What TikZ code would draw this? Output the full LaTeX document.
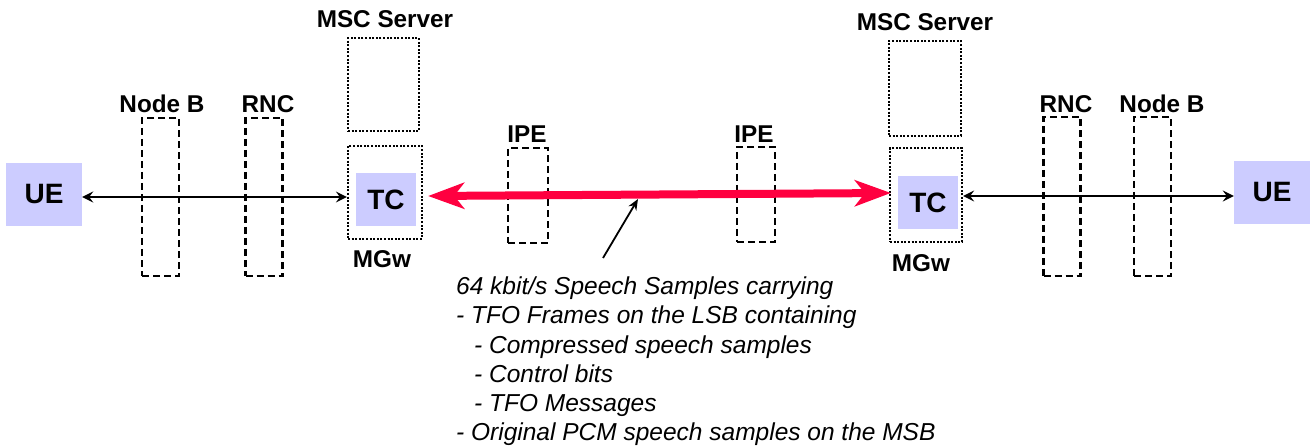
\documentclass[tikz,border=0pt]{standalone}
\usepackage{fontspec}
\setmainfont{Liberation Sans}
\usetikzlibrary{arrows.meta}
\definecolor{uefill}{RGB}{204,204,255}
\definecolor{redarrow}{RGB}{255,0,64}
\tikzset{
  lbl/.style={font=\fontsize{24.3}{27}\selectfont\bfseries, inner sep=0pt},
  endbox/.style={fill=uefill, inner sep=0pt, font=\fontsize{28}{30}\selectfont\bfseries},
  dashbox/.style={draw, line width=2.4pt, dash pattern=on 7pt off 4pt, inner sep=0pt, minimum width=37pt},
  dotbox/.style={draw, line width=2.2pt, dash pattern=on 2pt off 1.6pt, inner sep=0pt},
  blk/.style={line width=1.8pt, {Stealth[length=11pt,width=11pt,inset=4pt]}-{Stealth[length=11pt,width=11pt,inset=4pt]}},
  redarr/.style={draw=redarrow, line width=8pt, {Stealth[length=36pt,width=26pt,inset=10pt]}-{Stealth[length=36pt,width=26pt,inset=10pt]}},
  ptr/.style={line width=1.8pt, -{Stealth[length=11pt,width=9pt]}}
}
\begin{document}
\begin{tikzpicture}[x=1pt,y=-1pt]
\useasboundingbox (0,0) rectangle (1313,446);
% end points
\node[endbox, minimum width=76pt, minimum height=63pt] (ueL) at (44,194.5) {UE};
\node[endbox, minimum width=76pt, minimum height=63pt] (ueR) at (1272,192.5) {UE};
% left side boxes
\node[dashbox, minimum height=158pt] (nbL) at (160.5,197) {};
\node[lbl] (nbLt) at (162,104) {Node B};
\node[dashbox, minimum height=158pt] (rncL) at (264,197) {};
\node[lbl] (rncLt) at (268,104) {RNC};
\node[dotbox, minimum width=71pt, minimum height=93pt] (mscL) at (383.5,84.5) {};
\node[lbl] (mscLt) at (385,19) {MSC Server};
\node[dotbox, minimum width=74pt, minimum height=93pt] (mgwL) at (385,192.5) {};
\node[lbl] (mgwLt) at (382,259) {MGw};
\node[endbox, minimum width=60pt, minimum height=53pt] (tcL) at (386,199.5) {TC};
% IPE
\node[dashbox, minimum width=40pt, minimum height=95pt] (ipeL) at (528,195.5) {};
\node[lbl] (ipeLt) at (527,134) {IPE};
\node[dashbox, minimum width=38pt, minimum height=95pt] (ipeR) at (756,194.5) {};
\node[lbl] (ipeRt) at (754,134) {IPE};
% right side boxes
\node[dotbox, minimum width=72pt, minimum height=95pt] (mscR) at (925,88.5) {};
\node[lbl] (mscRt) at (925,22) {MSC Server};
\node[dotbox, minimum width=72pt, minimum height=94pt] (mgwR) at (926,195) {};
\node[lbl] (mgwRt) at (921,263) {MGw};
\node[endbox, minimum width=60pt, minimum height=53pt] (tcR) at (928,202.5) {TC};
\node[dashbox, minimum height=159pt] (rncR) at (1062,196.5) {};
\node[lbl] (rncRt) at (1066,104) {RNC};
\node[dashbox, minimum height=159pt] (nbR) at (1152.5,196.5) {};
\node[lbl] (nbRt) at (1162,104) {Node B};
% connectors
\draw[blk] (ueL.east |- 0,197) -- (mgwL.west |- 0,197);
\draw[blk] (mgwR.east |- 0,196) -- (ueR.west |- 0,196);
\path (mgwL.east |- 0,196) ++(5,0) coordinate (ra);
\path (mgwR.west |- 0,193) ++(2,0) coordinate (rb);
\draw[redarr] (ra) -- (rb);
\coordinate (pstart) at (603,258);
\coordinate (ptip) at (638,199);
\draw[ptr] (pstart) -- (ptip);
% note
\node[anchor=north west, align=left, inner sep=0pt, font=\fontsize{24.5}{29.3}\selectfont\itshape] (note) at (456,276.5)
{64 kbit/s Speech Samples carrying\\
- TFO Frames on the LSB containing\\
\hspace*{18pt}- Compressed speech samples\\
\hspace*{18pt}- Control bits\\
\hspace*{18pt}- TFO Messages\\
- Original PCM speech samples on the MSB};
\end{tikzpicture}
\end{document}
